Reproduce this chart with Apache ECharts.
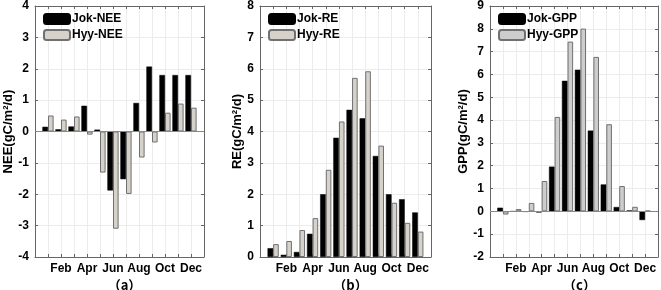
<!DOCTYPE html>
<html>
<head>
<meta charset="utf-8">
<script src="https://cdn.jsdelivr.net/npm/echarts@6/dist/echarts.min.js"></script>
<style>
  html, body { margin: 0; padding: 0; background: #fff; }
  #chart { width: 661px; height: 290px; }
</style>
</head>
<body>
<div id="chart"></div>
<script>
const months = ['Jan', 'Feb', 'Mar', 'Apr', 'May', 'Jun', 'Jul', 'Aug', 'Sep', 'Oct', 'Nov', 'Dec']

// (a) NEE
const jokNEE = [0.15, 0.07, 0.16, 0.82, 0.06, -1.88, -1.52, 0.91, 2.07, 1.8, 1.8, 1.8]
const hyyNEE = [0.51, 0.38, 0.48, -0.1, -1.31, -3.1, -1.99, -0.83, -0.35, 0.6, 0.89, 0.76]
// (b) RE
const jokRE = [0.28, 0.07, 0.16, 0.74, 2.0, 3.8, 4.69, 4.42, 3.22, 2.0, 1.84, 1.42]
const hyyRE = [0.41, 0.51, 0.86, 1.24, 2.78, 4.32, 5.71, 5.92, 3.55, 1.73, 1.09, 0.81]
// (c) GPP
const jokGPP = [0.16, 0.0, -0.02, -0.05, 1.96, 5.72, 6.21, 3.54, 1.18, 0.19, 0.04, -0.38]
const hyyGPP = [-0.14, 0.1, 0.37, 1.33, 4.14, 7.44, 8.01, 6.77, 3.82, 1.11, 0.2, 0.03]

const panelLabels = ['（a）', '（b）', '（c）']
const yNames = ['NEE(gC/m²/d)', 'RE(gC/m²/d)', 'GPP(gC/m²/d)']
const yRanges = [[-4, 4], [0, 8], [-2, 9]]

const chart = echarts.init(document.getElementById('chart'), null, { renderer: 'canvas' })

const FONT = '"Liberation Sans", Arial, sans-serif'
const panels = [
  { left: 35, width: 169, gap: 20, jok: jokNEE, hyy: hyyNEE, names: ['Jok-NEE', 'Hyy-NEE'], hyyColor: '#d6d2ca' },
  { left: 260, width: 171, gap: 10, jok: jokRE, hyy: hyyRE, names: ['Jok-RE', 'Hyy-RE'], hyyColor: '#d6d2ca' },
  { left: 490, width: 169, gap: 18, jok: jokGPP, hyy: hyyGPP, names: ['Jok-GPP', 'Hyy-GPP'], hyyColor: '#cdcdcd' },
]

const grid = [], xAxis = [], yAxis = [], series = [], legend = [], title = []

panels.forEach((p, i) => {
  grid.push({ left: p.left, width: p.width, top: 6, bottom: 33 })
  const [ymin, ymax] = yRanges[i]

  // bottom x axis, labels on even months only
  xAxis.push({
    type: 'value', gridIndex: i, min: 0, max: 13, interval: 1,
    axisLine: { onZero: false, lineStyle: { color: '#666' } },
    axisTick: { inside: true, length: 3, lineStyle: { color: '#666' } },
    axisLabel: {
      color: '#000', fontWeight: 'bold', fontSize: 12, fontFamily: FONT, margin: 6,
      formatter: v => (v >= 1 && v <= 12 && v % 2 === 0) ? months[v - 1] : '',
    },
    splitLine: { show: true, lineStyle: { color: '#ececec' } },
  })
  // top edge of the box
  xAxis.push({
    type: 'value', gridIndex: i, min: 0, max: 13, interval: 1, position: 'top',
    axisLine: { onZero: false, lineStyle: { color: '#666' } },
    axisTick: { inside: true, length: 3, lineStyle: { color: '#666' } },
    axisLabel: { show: false }, splitLine: { show: false },
  })
  yAxis.push({
    type: 'value', gridIndex: i, min: ymin, max: ymax, interval: 1,
    name: yNames[i], nameLocation: 'middle', nameGap: p.gap,
    nameTextStyle: { color: '#000', fontWeight: 'bold', fontSize: 13, fontFamily: FONT },
    axisLine: { show: true, onZero: false, lineStyle: { color: '#666' } },
    axisTick: { show: true, inside: true, length: 3, lineStyle: { color: '#666' } },
    axisLabel: { color: '#000', fontWeight: 'bold', fontSize: 12, fontFamily: FONT, margin: 6 },
    splitLine: { show: true, lineStyle: { color: '#ececec' } },
  })
  // right edge of the box
  yAxis.push({
    type: 'value', gridIndex: i, min: ymin, max: ymax, interval: 1, position: 'right',
    axisLine: { show: true, onZero: false, lineStyle: { color: '#666' } },
    axisTick: { show: true, inside: true, length: 3, lineStyle: { color: '#666' } },
    axisLabel: { show: false }, splitLine: { show: false },
  })

  series.push({
    name: p.names[0], type: 'bar', xAxisIndex: i * 2, yAxisIndex: i * 2,
    data: p.jok.map((v, k) => [k + 1, v]),
    barWidth: 5.6, barGap: '0%',
    itemStyle: { color: '#000', borderColor: '#000', borderWidth: 0.5 },
    markLine: ymin < 0 ? {
      silent: true, symbol: 'none', label: { show: false },
      lineStyle: { color: '#888', width: 1, type: 'solid' },
      data: [{ yAxis: 0 }],
    } : undefined,
  })
  series.push({
    name: p.names[1], type: 'bar', xAxisIndex: i * 2, yAxisIndex: i * 2,
    data: p.hyy.map((v, k) => [k + 1, v]),
    barWidth: 5.6, barGap: '0%',
    itemStyle: { color: p.hyyColor, borderColor: '#707070', borderWidth: 1 },
  })

  legend.push({
    data: p.names, orient: 'vertical', left: p.left + 8, top: 13,
    itemWidth: 26, itemHeight: 10, itemGap: 4, padding: 0,
    textStyle: { color: '#000', fontWeight: 'bold', fontSize: 12, fontFamily: FONT, padding: [0, 0, 0, -3] },
  })

  title.push({
    text: panelLabels[i], left: p.left + p.width / 2, top: 273, textAlign: 'center',
    textStyle: { fontSize: 13, fontWeight: 'bold', color: '#000', fontFamily: '"Noto Sans CJK SC"', lineHeight: 15 },
  })
})

chart.setOption({ animation: false, grid, xAxis, yAxis, series, legend, title })
</script>
</body>
</html>
